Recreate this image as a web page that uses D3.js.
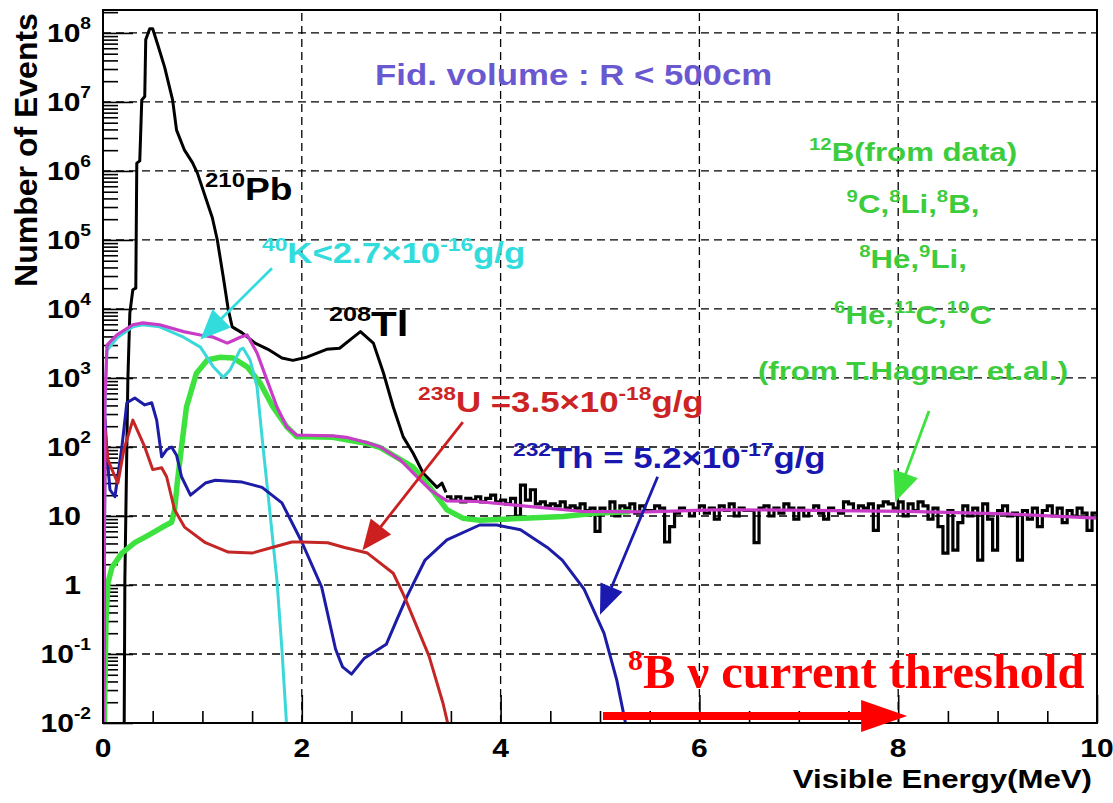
<!DOCTYPE html>
<html><head><meta charset="utf-8">
<script src="https://cdn.jsdelivr.net/npm/d3@7"></script>
<style>body{margin:0;background:#fff}svg{display:block}</style>
</head><body><svg id="c" width="1113" height="803"></svg>
<script>
// ---------------- data ----------------
const xTickValues = [0, 2, 4, 6, 8, 10];
const xTickLabels = ["0", "2", "4", "6", "8", "10"];
const yTickValues = [0.01, 0.1, 1, 10, 100, 1e3, 1e4, 1e5, 1e6, 1e7, 1e8];
const yTickLabels = ["10^{-2}", "10^{-1}", "1", "10", "10^{2}", "10^{3}", "10^{4}", "10^{5}", "10^{6}", "10^{7}", "10^{8}"];

// 210Pb + 208Tl measured spectrum (black)
const pbE = [0.21,0.22,0.25,0.27,0.30,0.33,0.34,0.37,0.39,0.42,0.43,0.47,0.50,0.55,0.62,0.70,0.74,0.82,0.90,0.95,1.03,1.10,1.15,1.21,1.26,1.30,1.40,1.53,1.66,1.80,1.91,2.05,2.25,2.38,2.52,2.59,2.72,2.82,2.92,3.02,3.12,3.22,3.36,3.41,3.45];
const pbN = [0.001,1.2,930,8700,19000,20000,1.3e6,1.4e6,1.07e7,1.2e7,8e7,1.15e8,1.15e8,6.8e7,3.2e7,1.07e7,3.9e6,2.0e6,1.32e6,9.3e5,4.2e5,2.1e5,1.0e5,2.9e4,9800,5500,4500,3200,2600,1950,1800,2000,2600,2700,3900,4700,3200,1200,380,140,81,42,26,30,22];
// high-energy histogram part (black), bins of 0.05 MeV from 3.45 MeV
const noiseStart = 3.45, noiseBin = 0.05;
const noiseCounts = [19,17,19,16,18,17,19,16,18,20,16,
  17,15,18,10,28,17,24,15,16,14,
  15,14,16,13,14,13,15,12,13,6,
  13,11,16,10,14,13,15,11,14,12,
  12,14,13,4.2,7,11,13,12,10,12,
  14,11,13,9,14,12,15,10,13,12,
  12,4.1,13,14,10,13,11,15,13,9,
  13,10,12,14,11,9,13,12,11,16,
  15,12,14,13,15,6.2,14,16,15,13,
  16,10,15,12,16,14,9,13,7,2.9,
  12,3.2,8,14,10,13,2.3,15,9,3.2,
  12,14,10,11,2.3,12,9,13,7,12,
  14,10,13,8,12,10,13,11,6.2,11];

// cosmogenic (green)
const cosE = [0.01,0.03,0.05,0.09,0.19,0.32,0.45,0.59,0.69,0.72,0.75,0.79,0.84,0.94,1.05,1.18,1.31,1.45,1.58,1.71,1.85,1.95,2.05,2.31,2.66,2.79,3.12,3.29,3.46,3.62,3.79,4.12,4.63,4.97,5.3];
const cosN = [0.005,0.3,1.07,1.8,2.9,4.1,5.2,6.8,8.1,12.3,33,100,380,1175,1820,2000,1950,1450,850,380,195,141,141,138,112,98,51,26,12.3,9.3,8.7,9.1,9.8,11,11.5];
// 40K (cyan)
const kE = [0.01,0.02,0.04,0.14,0.30,0.40,0.57,0.81,0.98,1.11,1.21,1.28,1.38,1.41,1.48,1.55,1.61,1.68,1.75,1.80,1.85];
const kN = [0.005,400,2500,3800,5500,5900,5500,3900,2800,1450,1020,1320,2570,2700,1820,740,100,11,1.17,0.117,0.008];
// 232Th (blue)
const thE = [0.005,0.02,0.04,0.07,0.12,0.19,0.24,0.32,0.42,0.49,0.54,0.59,0.64,0.69,0.74,0.79,0.88,1.03,1.13,1.40,1.60,1.80,2.00,2.20,2.34,2.41,2.50,2.63,2.85,2.95,3.06,3.24,3.46,3.79,3.96,4.20,4.47,4.62,4.84,5.04,5.17,5.27];
const thN = [0.005,251,79,24,19,100,437,513,407,437,245,72,91,100,76,37,20,30,33,31,26,15.5,4.2,0.93,0.117,0.065,0.051,0.087,0.138,0.30,0.69,2.3,4.5,7.4,7.4,6.3,3.5,2.3,0.87,0.20,0.041,0.008];
// 238U (red)
const uE = [0.003,0.02,0.05,0.09,0.15,0.21,0.30,0.42,0.50,0.59,0.64,0.72,0.82,1.03,1.26,1.50,1.70,1.90,2.00,2.26,2.43,2.66,2.92,3.03,3.28,3.42,3.50];
const uN = [0.005,178,65,47,30,91,245,100,47,50,37,12.3,6.9,4.1,3.0,2.9,3.5,4.2,4.2,4.1,3.5,2.9,1.48,0.69,0.093,0.0195,0.0063];
// total (magenta)
const totE = [0.005,0.02,0.04,0.14,0.30,0.40,0.57,0.81,0.98,1.11,1.25,1.31,1.38,1.45,1.55,1.65,1.75,1.85,1.95,2.05,2.31,2.45,2.66,2.79,2.99,3.16,3.29,3.46,3.76,4.12,4.8,5.47,6.14,6.41,8.09,9.09,10.0];
const totN = [0.006,500,3000,4200,5900,6300,5900,4700,4200,3900,3200,3500,3900,4200,2300,930,380,195,148,148,145,138,115,100,65,37,24,16.6,16.2,14.5,11.7,11.5,12.3,12.3,11.7,10.7,9.3];

// annotation arrows, in data coordinates [E0, N0, E1, N1]
const arrowK  = [1.70, 3.9e4, 0.98, 3600];
const arrowU  = [3.62, 230, 2.61, 3.2];
const arrowTh = [5.58, 37, 5.00, 0.37];
const arrowCos = [8.31, 333, 7.97, 16];
const thresholdArrow = [5.03, 0.0126, 8.09, 0.0126];

// ---------------- drawing ----------------
const svg = d3.select('#c');
const L = 103, R = 1097, T = 10, B = 723;
const x = d3.scaleLinear().domain([0, 10]).range([L, R]);
const y = d3.scaleLog().domain([0.01, 2.15e8]).range([B, T]);
const SX = 1.2;
const SANS = "'Liberation Sans', Arial, Helvetica, sans-serif";
const SERIF = "'Liberation Serif', 'Times New Roman', serif";

svg.append('rect').attr('width', 1113).attr('height', 803).attr('fill', '#fff');
svg.append('defs').append('clipPath').attr('id', 'clip')
  .append('rect').attr('x', L).attr('y', T).attr('width', R - L).attr('height', B - T);

// rich text with ^{...} superscripts
function rich(parent, px, py, str, o) {
  const size = o.size, sup = o.sup || Math.round(size * 0.65), rise = o.rise || Math.round(size * 0.42);
  const t = parent.append('text')
    .attr('transform', `translate(${px},${py}) scale(${o.sx === undefined ? SX : o.sx},1)`)
    .attr('text-anchor', o.anchor || 'start')
    .attr('font-family', o.family || SANS)
    .attr('font-weight', 'bold')
    .attr('font-size', size)
    .attr('fill', o.color || '#000');
  const parts = [];
  const re = /\^\{([^}]*)\}/g; let last = 0, m;
  while ((m = re.exec(str)) !== null) {
    if (m.index > last) parts.push({t: str.slice(last, m.index), s: false});
    parts.push({t: m[1], s: true}); last = re.lastIndex;
  }
  if (last < str.length) parts.push({t: str.slice(last), s: false});
  let up = false;
  parts.forEach(p => {
    const ts = t.append('tspan').text(p.t);
    if (p.s) { ts.attr('font-size', sup); if (!up) { ts.attr('dy', -rise); up = true; } }
    else if (up) { ts.attr('dy', rise); up = false; }
  });
  return t;
}

// grid
const grid = svg.append('g').attr('stroke', '#000').attr('stroke-width', 1.3).attr('stroke-dasharray', '8,5');
grid.selectAll('line.h').data(yTickValues.filter(v => v > 0.01)).join('line')
  .attr('x1', L).attr('x2', R).attr('y1', d => y(d)).attr('y2', d => y(d));
grid.selectAll('line.v').data(xTickValues.filter(v => v > 0 && v < 10)).join('line').attr('class', 'v')
  .attr('x1', d => x(d)).attr('x2', d => x(d)).attr('y1', B).attr('y2', T);

// axes ticks
const xMinor = d3.range(0, 10.001, 0.5).filter(v => Math.abs(v / 2 - Math.round(v / 2)) > 1e-6);
const yMinor = [];
for (let d = -2; d <= 8; d++) for (let k = 2; k <= 9; k++) { const v = k * Math.pow(10, d); if (v < 2.15e8) yMinor.push(v); }
function styleAxis(g) { g.select('.domain').remove(); g.selectAll('.tick line').attr('stroke', '#000').attr('stroke-width', 1.6); g.selectAll('.tick text').remove(); }
svg.append('g').attr('transform', `translate(0,${B})`).call(d3.axisBottom(x).tickValues(xMinor).tickSize(-12).tickSizeOuter(0)).call(styleAxis);
svg.append('g').attr('transform', `translate(0,${B})`).call(d3.axisBottom(x).tickValues(xTickValues).tickSize(-28).tickSizeOuter(0)).call(styleAxis);
svg.append('g').attr('transform', `translate(${L},0)`).call(d3.axisLeft(y).tickValues(yMinor).tickSize(-15).tickSizeOuter(0)).call(styleAxis);
svg.append('g').attr('transform', `translate(${L},0)`).call(d3.axisLeft(y).tickValues(yTickValues).tickSize(-30).tickSizeOuter(0)).call(styleAxis);

// tick labels
const labG = svg.append('g');
xTickValues.forEach((v, i) => rich(labG, x(v), 757, xTickLabels[i], {size: 25, anchor: 'middle'}));
yTickValues.forEach((v, i) => {
  const s = yTickLabels[i];
  rich(labG, s.indexOf('^') >= 0 ? 91 : 81, y(v) + 9, s, {size: 25, sup: 16, rise: 13, anchor: 'end'});
});

// axis titles
svg.append('text').attr('transform', `translate(37,150) rotate(-90)`).attr('text-anchor', 'middle')
  .attr('font-family', SANS).attr('font-weight', 'bold').attr('font-size', 32).text('Number of Events');
rich(svg, 1092, 788, 'Visible Energy(MeV)', {size: 26, anchor: 'end'});

// curves
const plot = svg.append('g').attr('clip-path', 'url(#clip)').attr('fill', 'none').attr('stroke-linejoin', 'round');
const line = d3.line().x(d => x(d[0])).y(d => y(d[1]));
const zip = (a, b) => a.map((e, i) => [e, b[i]]);
const noisePts = noiseCounts.map((c, i) => [noiseStart + i * noiseBin, c]);
noisePts.push([10, noiseCounts[noiseCounts.length - 1]]);
const stepLine = d3.line().x(d => x(d[0])).y(d => y(d[1])).curve(d3.curveStepAfter);

plot.append('path').attr('d', line(zip(pbE, pbN))).attr('stroke', '#000').attr('stroke-width', 3);
plot.append('path').attr('d', stepLine(noisePts)).attr('stroke', '#000').attr('stroke-width', 3.2).attr('stroke-linejoin', 'miter');
plot.append('path').attr('d', line(zip(cosE, cosN))).attr('stroke', '#3ee23e').attr('stroke-width', 5.5);
plot.append('path').attr('d', line(zip(kE, kN))).attr('stroke', '#3ad8d8').attr('stroke-width', 3);
plot.append('path').attr('d', line(zip(thE, thN))).attr('stroke', '#1c1ca6').attr('stroke-width', 3);
plot.append('path').attr('d', line(zip(uE, uN))).attr('stroke', '#c42626').attr('stroke-width', 3);
plot.append('path').attr('d', line(zip(totE, totN))).attr('stroke', '#c83cc8').attr('stroke-width', 3.2);

// frame
svg.append('rect').attr('x', L).attr('y', T).attr('width', R - L).attr('height', B - T)
  .attr('fill', 'none').attr('stroke', '#000').attr('stroke-width', 2);

// arrows
function arrow(a, color, w, hl, hw) {
  const x0 = x(a[0]), y0 = y(a[1]), x1 = x(a[2]), y1 = y(a[3]);
  const dx = x1 - x0, dy = y1 - y0, len = Math.hypot(dx, dy), ux = dx / len, uy = dy / len;
  const bx = x1 - ux * hl, by = y1 - uy * hl;
  svg.append('line').attr('x1', x0).attr('y1', y0).attr('x2', bx + ux * 2).attr('y2', by + uy * 2)
    .attr('stroke', color).attr('stroke-width', w);
  svg.append('path').attr('d', `M${x1},${y1}L${bx - uy * hw},${by + ux * hw}L${bx + uy * hw},${by - ux * hw}Z`).attr('fill', color);
}
arrow(arrowK, '#33dcdc', 2.8, 30, 13);
arrow(arrowU, '#cc2020', 2.8, 30, 13);
arrow(arrowTh, '#1a1ab0', 2.8, 30, 12);
arrow(arrowCos, '#3ee23e', 2.8, 30, 13);
arrow(thresholdArrow, '#ff0000', 8, 46, 16);

// annotations
rich(svg, 375, 85, 'Fid. volume : R < 500cm', {size: 29, color: '#6a58d0'});
rich(svg, 205, 200, '^{210}Pb', {size: 31, sup: 20, rise: 13});
rich(svg, 329, 336, '^{208}Tl', {size: 35, sup: 21, rise: 15});
rich(svg, 262, 263, '^{40}K<2.7×10^{-16}g/g', {size: 29, sup: 19, rise: 12, color: '#33dcdc'});
rich(svg, 418, 412, '^{238}U =3.5×10^{-18}g/g', {size: 29, sup: 19, rise: 12, color: '#cc2424'});
rich(svg, 513, 468, '^{232}Th = 5.2×10^{-17}g/g', {size: 29, sup: 19, rise: 12, color: '#1818b0'});
const cosLines = ['^{12}B(from data)', '^{9}C,^{8}Li,^{8}B,', '^{8}He,^{9}Li,', '^{6}He,^{11}C,^{10}C', '(from T.Hagner et.al.)'];
const cosBase = [161, 213, 268, 324, 380];
cosLines.forEach((s, i) => rich(svg, 913, cosBase[i], s, {size: 26, sup: 17, rise: 11, anchor: 'middle', color: '#3ccc3c'}));
rich(svg, 628, 688, '^{8}B ν current threshold', {size: 48.5, sup: 30, rise: 18, color: '#ff0000', family: SERIF, sx: 1});
</script></body></html>
